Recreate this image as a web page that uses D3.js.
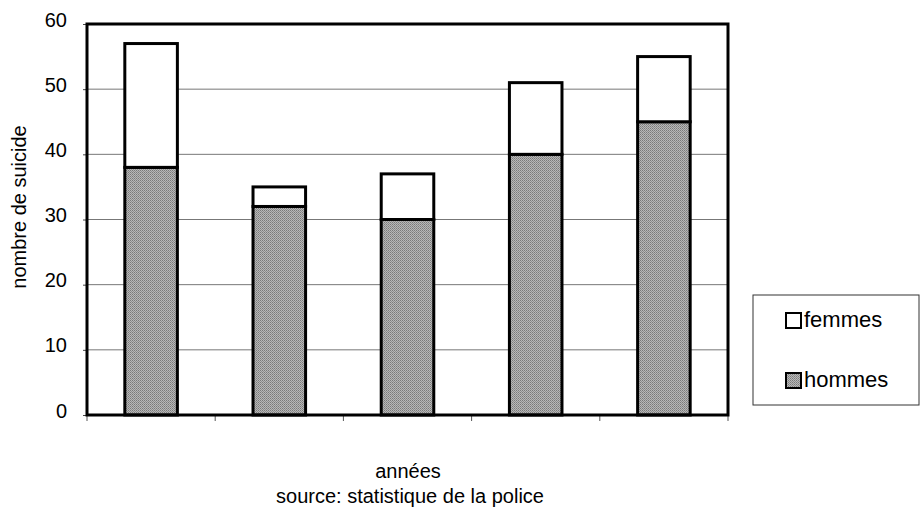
<!DOCTYPE html>
<html><head><meta charset="utf-8">
<script src="https://cdn.jsdelivr.net/npm/d3@7/dist/d3.min.js"></script>
<style>body{margin:0;background:#fff;} text{font-family:"Liberation Sans",Arial,sans-serif;fill:#000;}</style>
</head><body>
<svg id="c" width="922" height="511"></svg>
<script>
const years = ["1","2","3","4","5"];
const hommes = [38, 32, 30, 40, 45];
const femmes = [19, 3, 7, 11, 10];
const yTicks = [0, 10, 20, 30, 40, 50, 60];
const seriesNames = ["femmes", "hommes"];

const svg = d3.select("#c");
const L = 87, R = 728, T = 24, B = 415;
const x = d3.scaleBand().domain(years).range([L, R]).paddingInner(0.59).paddingOuter(0.295);
const y = d3.scaleLinear().domain([0, 60]).range([B, T]);

// gridlines
svg.append("g").selectAll("line").data(yTicks.filter(d => d > 0 && d < 60)).join("line")
  .attr("x1", L).attr("x2", R).attr("y1", d => y(d)).attr("y2", d => y(d))
  .attr("stroke", "#777").attr("stroke-width", 1);

// y axis labels
const ya = svg.append("g").attr("transform", `translate(${L},0)`)
  .call(d3.axisLeft(y).tickValues(yTicks).tickSize(4).tickPadding(16));
ya.select(".domain").remove();
ya.selectAll("line").attr("stroke", "#444");
ya.selectAll("text").attr("dy", "0.1em").style("font-size", "20px").style("font-family", '"Liberation Sans",Arial,sans-serif');

// x axis ticks
const band = (R - L) / years.length;
const xt = d3.range(years.length + 1).map(i => L + i * band);
svg.append("g").selectAll("line").data(xt).join("line")
  .attr("x1", d => d).attr("x2", d => d).attr("y1", B).attr("y2", B + 6)
  .attr("stroke", "#555").attr("stroke-width", 1);

// pattern for stippled gray
const defs = svg.append("defs");
const pat = defs.append("pattern").attr("id", "grey").attr("width", 2).attr("height", 2).attr("patternUnits", "userSpaceOnUse");
pat.append("rect").attr("width", 2).attr("height", 2).attr("fill", "#b8b8b8");
pat.append("rect").attr("width", 1).attr("height", 1).attr("fill", "#7a7a7a");
pat.append("rect").attr("x", 1).attr("y", 1).attr("width", 1).attr("height", 1).attr("fill", "#8e8e8e");

// bars
const g = svg.append("g");
g.selectAll(".h").data(years).join("rect")
  .attr("x", d => x(d)).attr("width", x.bandwidth())
  .attr("y", (d, i) => y(hommes[i])).attr("height", (d, i) => y(0) - y(hommes[i]))
  .attr("fill", "url(#grey)").attr("stroke", "#000").attr("stroke-width", 3);
g.selectAll(".f").data(years).join("rect")
  .attr("x", d => x(d)).attr("width", x.bandwidth())
  .attr("y", (d, i) => y(hommes[i] + femmes[i])).attr("height", (d, i) => y(hommes[i]) - y(hommes[i] + femmes[i]))
  .attr("fill", "#fff").attr("stroke", "#000").attr("stroke-width", 3);

// plot frame
svg.append("rect").attr("x", L).attr("y", T).attr("width", R - L).attr("height", B - T)
  .attr("fill", "none").attr("stroke", "#000").attr("stroke-width", 3);

// y label
svg.append("text").attr("transform", "translate(26,207) rotate(-90)").attr("text-anchor", "middle")
  .style("font-size", "20px").text("nombre de suicide");

// x labels
svg.append("text").attr("x", 408).attr("y", 478).attr("text-anchor", "middle").style("font-size", "20px").text("années");
svg.append("text").attr("x", 410).attr("y", 503).attr("text-anchor", "middle").style("font-size", "20px").text("source: statistique de la police");

// legend
const lg = svg.append("g");
lg.append("rect").attr("x", 753).attr("y", 295).attr("width", 166).attr("height", 110)
  .attr("fill", "#fff").attr("stroke", "#333").attr("stroke-width", 1);
const items = [{n: seriesNames[0], f: "#fff", y: 327}, {n: seriesNames[1], f: "url(#grey)", y: 387}];
items.forEach(it => {
  lg.append("rect").attr("x", 786).attr("y", it.y - 14).attr("width", 15).attr("height", 15)
    .attr("fill", it.f).attr("stroke", "#000").attr("stroke-width", 2);
  lg.append("text").attr("x", 804).attr("y", it.y).style("font-size", "22px").text(it.n);
});
</script>
</body></html>
